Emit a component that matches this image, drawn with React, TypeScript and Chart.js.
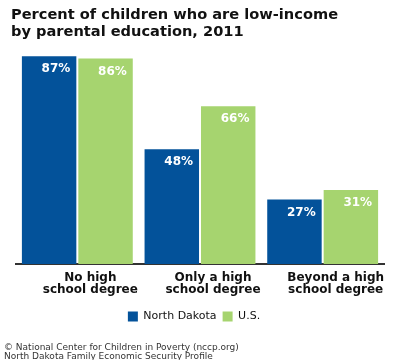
import React, { useEffect, useRef } from "react";
import { Chart, registerables } from "chart.js";

Chart.register(...registerables);

const categories: string[][] = [
  ["No high", "school degree"],
  ["Only a high", "school degree"],
  ["Beyond a high", "school degree"],
];
const northDakota = [87, 48, 27];
const us = [86, 66, 31];
const seriesNames = ["North Dakota", "U.S."];
const titleLines = ["Percent of children who are low-income", "by parental education, 2011"];
const footerLines = [
  "\u00a9 National Center for Children in Poverty (nccp.org)",
  "North Dakota Family Economic Security Profile",
];

const BLUE = "#03529a";
const GREEN = "#a6d46f";
const FONT = "'DejaVu Sans', Verdana, sans-serif";

const textPlugin = {
  id: "textPlugin",
  afterDatasetsDraw(chart: any) {
    const ctx = chart.ctx;
    ctx.save();
    ctx.fillStyle = "#ffffff";
    ctx.font = `bold 12px ${FONT}`;
    ctx.textAlign = "right";
    ctx.textBaseline = "top";
    chart.data.datasets.forEach((ds: any, di: number) => {
      const meta = chart.getDatasetMeta(di);
      meta.data.forEach((bar: any, i: number) => {
        const right = bar.x + bar.width / 2 - 6;
        ctx.fillText(`${ds.data[i]}%`, right, bar.y + 7);
      });
    });
    ctx.restore();
  },
  afterDraw(chart: any) {
    const ctx = chart.ctx;
    ctx.save();
    ctx.fillStyle = "#111111";
    ctx.font = `bold 14.6px ${FONT}`;
    ctx.textAlign = "left";
    ctx.textBaseline = "alphabetic";
    titleLines.forEach((t, i) => ctx.fillText(t, 11, 19 + i * 17));
    ctx.fillStyle = "#333333";
    ctx.font = `9px ${FONT}`;
    footerLines.forEach((t, i) => ctx.fillText(t, 4, 350 + i * 9));
    ctx.restore();
  },
};

export default function App() {
  const ref = useRef<HTMLCanvasElement | null>(null);
  useEffect(() => {
    if (!ref.current) return;
    const chart = new Chart(ref.current, {
      type: "bar",
      data: {
        labels: categories,
        datasets: [
          { label: seriesNames[0], data: northDakota, backgroundColor: BLUE, categoryPercentage: 0.92, barPercentage: 0.965 },
          { label: seriesNames[1], data: us, backgroundColor: GREEN, categoryPercentage: 0.92, barPercentage: 0.965 },
        ],
      },
      options: {
        responsive: false,
        animation: false,
        layout: { padding: { top: 49, left: 4, right: 16, bottom: 28 } },
        scales: {
          x: {
            grid: { display: false },
            border: { display: true, color: "#333333", width: 2 },
            ticks: {
              color: "#111111",
              font: { family: FONT, size: 12, weight: "bold", lineHeight: 1.0 },
              padding: 0,
              labelOffset: 13,
              maxRotation: 0,
              autoSkip: false,
            },
            afterFit: (s: any) => { s.height = 41; },
          },
          y: {
            min: 0,
            max: 90,
            display: true,
            grid: { display: false },
            border: { display: false },
            ticks: { display: false },
            afterFit: (s: any) => { s.width = 12; },
          },
        },
        plugins: {
          legend: {
            position: "bottom",
            labels: {
              boxWidth: 10,
              boxHeight: 10,
              padding: 6,
              color: "#111111",
              font: { family: FONT, size: 11 },
            },
          },
          tooltip: { enabled: false },
          title: { display: false },
        },
      },
      plugins: [textPlugin],
    });
    return () => chart.destroy();
  }, []);
  return (
    <div style={{ position: "fixed", left: 0, top: 0, width: 400, height: 360, background: "#fff" }}>
      <canvas ref={ref} width={400} height={360} />
    </div>
  );
}
